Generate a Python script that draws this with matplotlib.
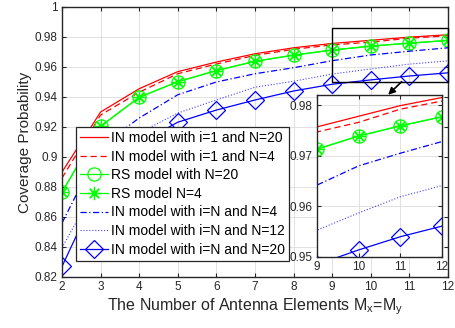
import numpy as np
import matplotlib
matplotlib.use('Agg')
import matplotlib.pyplot as plt
from matplotlib.patches import Rectangle

plt.rcParams['font.family'] = ['Liberation Sans', 'DejaVu Sans']

# data
m = [2, 3, 4, 5, 6, 7, 8, 9, 10, 11, 12]
in_i1_n20 = [0.890, 0.930, 0.9455, 0.9569, 0.9633, 0.9688, 0.9728, 0.9757, 0.9778, 0.9799, 0.9815]
in_i1_n4 = [0.886, 0.928, 0.9432, 0.9555, 0.9620, 0.9677, 0.9718, 0.9747, 0.9766, 0.9792, 0.9808]
rs_n20 = [0.8765, 0.9205, 0.9398, 0.9502, 0.9576, 0.9638, 0.9679, 0.9713, 0.9739, 0.9759, 0.9777]
rs_n4 = [0.8765, 0.9205, 0.9398, 0.9502, 0.9576, 0.9638, 0.9679, 0.9713, 0.9739, 0.9759, 0.9777]
in_iN_n4 = [0.856, 0.907, 0.926, 0.9415, 0.950, 0.9555, 0.9595, 0.9642, 0.968, 0.9705, 0.9728]
in_iN_n12 = [0.8395, 0.886, 0.916, 0.9293, 0.938, 0.9465, 0.9505, 0.9553, 0.9587, 0.9619, 0.9641]
in_iN_n20 = [0.827, 0.882, 0.909, 0.9232, 0.9313, 0.938, 0.944, 0.9485, 0.9514, 0.954, 0.9561]

labels = ['IN model with i=1 and N=20', 'IN model with i=1 and N=4',
          'RS model with N=20', 'RS model N=4',
          'IN model with i=N and N=4', 'IN model with i=N and N=12',
          'IN model with i=N and N=20']

main_yticks = [0.82, 0.84, 0.86, 0.88, 0.9, 0.92, 0.94, 0.96, 0.98, 1]
main_yticklabels = ['0.82', '0.84', '0.86', '0.88', '0.9', '0.92', '0.94', '0.96', '0.98', '1']
inset_yticks = [0.95, 0.96, 0.97, 0.98]
inset_xticks = [9, 10, 11, 12]

RED = '#FF0000'
GREEN = '#00FF00'
BLUE = '#0000FF'
AX_COL = '#262626'


def draw_curves(ax, with_labels):
    lab = labels if with_labels else [None] * 7
    ax.plot(m, in_i1_n20, '-', color=RED, lw=0.9, label=lab[0])
    ax.plot(m, in_i1_n4, '--', color=RED, lw=0.9, dashes=(5, 3), label=lab[1])
    ax.plot(m, rs_n20, '-', color=GREEN, lw=0.9, marker='o', ms=9.5, mfc='none',
            mew=0.9, label=lab[2])
    ax.plot(m, rs_n4, '-', color=GREEN, lw=0.9, marker=(8, 2, 0), ms=9.5,
            mew=0.9, label=lab[3])
    ax.plot(m, in_iN_n4, '-.', color=BLUE, lw=0.9, dashes=(5, 2, 1, 2), label=lab[4])
    ax.plot(m, in_iN_n12, ':', color=BLUE, lw=0.8, alpha=0.75, label=lab[5])
    ax.plot(m, in_iN_n20, '-', color=BLUE, lw=0.9, marker='D', ms=9, mfc='none',
            mew=0.9, label=lab[6])


def style_axes(ax, fs):
    ax.grid(True, color='#DCDCDC', lw=0.6)
    ax.set_axisbelow(True)
    for s in ax.spines.values():
        s.set_color(AX_COL)
        s.set_linewidth(1.0)
    ax.tick_params(direction='in', length=3, width=0.8, colors=AX_COL,
                   labelsize=fs, top=True, right=True, pad=3)


fig = plt.figure(figsize=(4.55, 3.28), dpi=100)
ax = fig.add_axes([0.1363, 0.1555, 0.8483, 0.8232])
draw_curves(ax, True)
ax.set_xlim(2, 12)
ax.set_ylim(0.82, 1)
ax.set_xticks(m)
ax.set_yticks(main_yticks)
ax.set_yticklabels(main_yticklabels)
style_axes(ax, 8.5)
ax.set_xlabel('The Number of Antenna Elements M$_\\mathregular{x}$=M$_\\mathregular{y}$',
              fontsize=11.5, color=AX_COL, labelpad=2)
ax.set_ylabel('Coverage Probability', fontsize=11, color=AX_COL, labelpad=2)

leg = ax.legend(loc='upper left', bbox_to_anchor=(0.036, 0.556), borderaxespad=0,
                fontsize=10, handlelength=2.0, handletextpad=0.2, labelspacing=0.33,
                borderpad=0.3, fancybox=False, framealpha=1, edgecolor=AX_COL)
leg.get_frame().set_linewidth(0.9)
for t in leg.get_texts():
    t.set_color('black')

# zoom box and arrow
ax.add_patch(Rectangle((9, 0.95), 3, 0.036, fill=False, ec='black', lw=1.0,
                       zorder=5, clip_on=False))
ax.annotate('', xy=(10.45, 0.9415), xytext=(10.8, 0.9502),
            arrowprops=dict(arrowstyle='-|>', color='black', lw=1.2,
                            mutation_scale=10, shrinkA=0, shrinkB=0),
            annotation_clip=False, zorder=6)

ins = fig.add_axes([0.6967, 0.2165, 0.2747, 0.4939])
ins.set_facecolor('white')
draw_curves(ins, False)
ins.set_xlim(9, 12)
ins.set_ylim(0.95, 0.982)
ins.set_xticks(inset_xticks)
ins.set_yticks(inset_yticks)
style_axes(ins, 8.5)

fig.savefig('out.png', dpi=100)
